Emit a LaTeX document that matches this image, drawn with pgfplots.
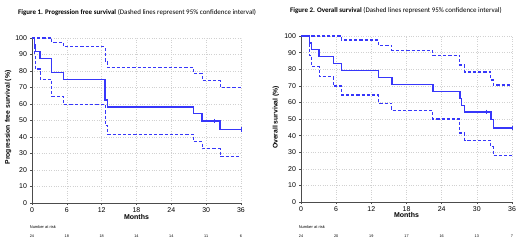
\documentclass[border=0pt]{standalone}
\usepackage{fontspec}
\setmainfont{Liberation Sans}
\newfontfamily\calibri{Carlito}
\usepackage{pgfplots}
\pgfplotsset{compat=1.18}
\definecolor{km}{RGB}{55,55,250}
\pgfplotsset{kmaxis/.style={
  scale only axis, anchor=south west,
  xmin=0,xmax=36,ymin=0,ymax=100,
  xtick={0,6,...,36}, ytick={0,10,...,100},
  axis x line*=bottom, axis y line*=left,
  axis line style={draw=black!70,-, line width=0.6bp},
  grid=major, grid style={dotted, black!18, line width=0.5bp},
  tick align=outside, major tick length=2bp, tick style={draw=black!70, line width=0.5bp},
  ticklabel style={font=\fontsize{7}{8}\selectfont},
  xticklabel style={yshift=1bp},
  yticklabel style={xshift=0.5bp},
  /pgf/number format/assume math mode=true,
  clip=false,
}}
\tikzset{
  kmsolid/.style={km, line width=1.4bp, const plot},
  kmci/.style={km, line width=1.15bp, const plot, dash pattern=on 3.2bp off 2bp},
  kmcens/.style={km, only marks, mark=|, mark size=2.3bp, mark options={solid, line width=0.9bp}},
  nar/.style={inner sep=0pt, font=\fontsize{3.8}{4}\selectfont},
}
\begin{document}
\begin{tikzpicture}
\path[use as bounding box] (0bp,0bp) rectangle (520bp,245bp);
\node[anchor=west, inner sep=0pt, font=\calibri\fontsize{7}{8}\selectfont] at (18bp,232.5bp) {\textbf{Figure 1. Progression free survival} (Dashed lines represent 95\% confidence interval)};
\node[anchor=west, inner sep=0pt, font=\calibri\fontsize{7}{8}\selectfont] at (290bp,234bp) {\textbf{Figure 2. Overall survival} (Dashed lines represent 95\% confidence interval)};

\begin{axis}[kmaxis, at={(32bp,42bp)}, width=209bp, height=165bp]
\addplot[kmsolid] coordinates {(0,100)(0.4,95.8)(0.6,91.7)(1.4,87.5)(3.4,79.2)(5.4,75)(12.6,62.5)(13.0,58.3)(27.8,54.2)(29.3,49.6)(32.4,44.6)(36,44.6)};
\addplot[kmci] coordinates {(0,100)(3.4,97.2)(5.4,94.7)(12.6,85.8)(13.0,82)(27.8,78.6)(29.3,74.2)(32.4,70.2)(36,70.2)};
\addplot[kmci] coordinates {(0,100)(0.4,89)(0.6,81.2)(1.4,75)(3.4,64.6)(5.4,59.6)(12.6,47)(13.0,41.7)(27.8,37.2)(29.3,32.8)(32.4,28.2)(36,28.2)};
\addplot[kmcens] coordinates {(31.5,49.6)(36,44.6)};
\node[font=\bfseries\fontsize{7}{8}\selectfont] at (axis cs:18,-8.2) {Months};
\node[rotate=90, font=\bfseries\fontsize{6.8}{7}\selectfont] at (axis cs:-4.1,51.8) {Progression free survival (\%)};
\node[anchor=west, inner sep=0pt, font=\fontsize{4}{5}\selectfont] at (axis cs:-0.4,-14.5) {Number at risk};
\node[nar] at (axis cs:0,-20) {24};
\node[nar] at (axis cs:6,-20) {18};
\node[nar] at (axis cs:12,-20) {18};
\node[nar] at (axis cs:18,-20) {14};
\node[nar] at (axis cs:24,-20) {14};
\node[nar] at (axis cs:30,-20) {11};
\node[nar] at (axis cs:36,-20) {6};
\end{axis}

\begin{axis}[kmaxis, at={(301bp,43bp)}, width=211bp, height=166bp]
\addplot[kmsolid] coordinates {(0,100)(1.4,95.8)(1.8,91.7)(3.1,87.5)(5.5,83.3)(6.9,79.2)(13.2,75)(15.5,70.8)(22.5,66.7)(27.1,62.5)(27.4,58.3)(27.9,54.2)(32.4,49.6)(32.8,44.6)(36,44.6)};
\addplot[kmci] coordinates {(0,100)(6.9,97.6)(13.2,94.5)(15.5,91.5)(22.5,88.5)(27.1,82.5)(27.9,78.3)(32.4,73.5)(32.8,70.5)(36,70.5)};
\addplot[kmci] coordinates {(0,100)(1.4,88.5)(1.8,81.5)(3.1,75.5)(5.5,69.9)(6.9,64.5)(13.2,59.5)(15.5,55)(22.5,50)(27.1,41.6)(27.9,37.3)(32.4,33.3)(32.8,28.1)(36,28.1)};
\addplot[kmcens] coordinates {(31.6,54.2)(36,44.6)};
\node[font=\bfseries\fontsize{7}{8}\selectfont] at (axis cs:18,-7.9) {Months};
\node[rotate=90, font=\bfseries\fontsize{6.8}{7}\selectfont] at (axis cs:-4.3,50.9) {Overall survival (\%)};
\node[anchor=west, inner sep=0pt, font=\fontsize{4}{5}\selectfont] at (axis cs:-0.4,-15) {Number at risk};
\node[nar] at (axis cs:0,-20.5) {24};
\node[nar] at (axis cs:6,-20.5) {20};
\node[nar] at (axis cs:12,-20.5) {19};
\node[nar] at (axis cs:18,-20.5) {17};
\node[nar] at (axis cs:24,-20.5) {16};
\node[nar] at (axis cs:30,-20.5) {13};
\node[nar] at (axis cs:36,-20.5) {7};
\end{axis}
\end{tikzpicture}
\end{document}
